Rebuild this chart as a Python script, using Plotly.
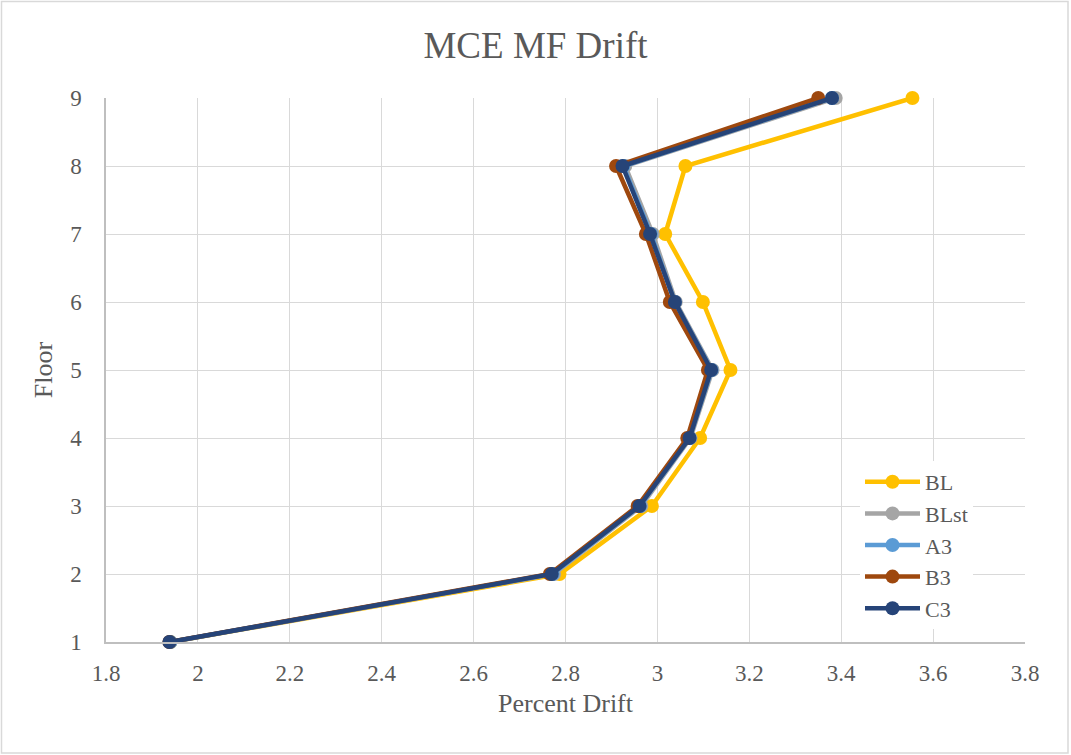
import plotly.graph_objects as go

# Floor levels and percent drift per configuration
floors = [1, 2, 3, 4, 5, 6, 7, 8, 9]
drift_BL = [1.94, 2.787, 2.988, 3.093, 3.159, 3.099, 3.017, 3.061, 3.555]
drift_BLst = [1.94, 2.775, 2.965, 3.072, 3.120, 3.040, 2.990, 2.930, 3.388]
drift_A3 = [1.94, 2.772, 2.962, 3.070, 3.118, 3.038, 2.986, 2.926, 3.380]
drift_B3 = [1.938, 2.766, 2.957, 3.065, 3.110, 3.027, 2.975, 2.910, 3.350]
drift_C3 = [1.938, 2.770, 2.961, 3.070, 3.117, 3.038, 2.984, 2.924, 3.380]

series = [
    ("BL", drift_BL, "#FFC000"),
    ("BLst", drift_BLst, "#A5A5A5"),
    ("A3", drift_A3, "#5B9BD5"),
    ("B3", drift_B3, "#9E480E"),
    ("C3", drift_C3, "#264478"),
]

FONT = "Liberation Serif, Times New Roman, serif"
TEXT = "#595959"

fig = go.Figure()
for name, vals, color in series:
    fig.add_trace(go.Scatter(
        x=vals, y=floors, name=name, mode="lines+markers",
        line=dict(color=color, width=4.5),
        marker=dict(color=color, size=14),
        cliponaxis=False,
    ))

W, H = 1071, 755
L, R, T, B = 106, 1025, 98, 642
pw, ph = R - L, B - T

fig.update_layout(
    width=W, height=H,
    margin=dict(l=L, r=W - R, t=T, b=H - B),
    paper_bgcolor="white", plot_bgcolor="white",
    font=dict(family=FONT, color=TEXT, size=23),
    title=dict(text="MCE MF Drift", x=0.5, xanchor="center",
               y=1 - 45 / H, yanchor="middle",
               font=dict(family=FONT, size=37, color=TEXT)),
    xaxis=dict(range=[1.8, 3.8], dtick=0.2, tick0=1.8,
               showgrid=True, gridcolor="#D9D9D9", gridwidth=1,
               showline=True, linecolor="#BFBFBF", linewidth=1.5,
               zeroline=False, ticks="", ticklabelstandoff=10,
               tickfont=dict(size=23, color=TEXT, family=FONT),
               title=dict(text="Percent Drift", standoff=8,
                          font=dict(size=26, color=TEXT, family=FONT))),
    yaxis=dict(range=[1, 9], dtick=1, tick0=1,
               showgrid=True, gridcolor="#D9D9D9", gridwidth=1,
               showline=True, linecolor="#BFBFBF", linewidth=1.5,
               zeroline=False, ticks="", ticklabelstandoff=18,
               tickfont=dict(size=23, color=TEXT, family=FONT),
               title=dict(text="Floor", standoff=10,
                          font=dict(size=26, color=TEXT, family=FONT))),
    legend=dict(x=(860 - L) / pw, y=(B - 461) / ph, xanchor="left", yanchor="top",
                bgcolor="rgba(255,255,255,1)", font=dict(size=22, color=TEXT, family=FONT),
                tracegroupgap=0, itemwidth=55),
    showlegend=True,
)

# Outer chart border
fig.add_shape(type="rect", xref="paper", yref="paper",
              x0=(1.5 - L) / pw, x1=(1068 - L) / pw,
              y0=(B - 753) / ph, y1=(B - 1.5) / ph,
              line=dict(color="#D9D9D9", width=1.5), fillcolor="rgba(0,0,0,0)", layer="below")

fig.write_html("out.html")
